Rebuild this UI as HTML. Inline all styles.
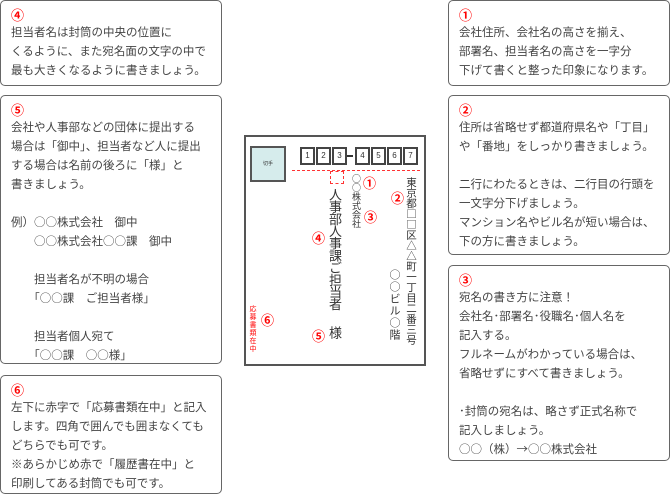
<!DOCTYPE html>
<html><head><meta charset="utf-8"><style>
body{margin:0;width:670px;height:496px;background:#fff;position:relative;overflow:hidden;font-family:"Noto Sans CJK JP","Liberation Sans",sans-serif;color:#444}
.b{position:absolute;border:1px solid #666;border-radius:5px;box-sizing:border-box;padding:6px 0 0 10px;font-size:11.5px;line-height:19px;white-space:pre}
.n{color:#f00;font-weight:bold;font-size:13px;line-height:16px;display:block}
.a{position:absolute}
.v{position:absolute;writing-mode:vertical-rl;white-space:nowrap;color:#333}
.r{position:absolute;color:#f00;font-weight:bold;font-size:13px}
.pb{position:absolute;top:147px;width:11px;height:14px;border:2px solid #444;font-family:"Liberation Sans",sans-serif;font-size:8px;text-align:center;line-height:14px;color:#333;box-sizing:content-box}
</style></head><body>
<div class="b" style="left:0;top:0;width:222px;height:86px"><span class="n">④</span>担当者名は封筒の中央の位置に
くるように、また宛名面の文字の中で
最も大きくなるように書きましょう。</div>
<div class="b" style="left:0;top:95px;width:222px;height:269px"><span class="n">⑤</span>会社や人事部などの団体に提出する
場合は「御中」、担当者など人に提出
する場合は名前の後ろに「様」と
書きましょう。

例）○○株式会社　御中
　　○○株式会社○○課　御中

　　担当者名が不明の場合
　　「○○課　ご担当者様」

　　担当者個人宛て
　　「○○課　○○様」</div>
<div class="b" style="left:0;top:375px;width:222px;height:119px"><span class="n">⑥</span>左下に赤字で「応募書類在中」と記入
します。四角で囲んでも囲まなくても
どちらでも可です。
※あらかじめ赤で「履歴書在中」と
印刷してある封筒でも可です。</div>
<div class="b" style="left:448px;top:0;width:222px;height:86px"><span class="n">①</span>会社住所、会社名の高さを揃え、
部署名、担当者名の高さを一字分
下げて書くと整った印象になります。</div>
<div class="b" style="left:448px;top:95px;width:222px;height:160px"><span class="n">②</span>住所は省略せず都道府県名や「丁目」
や「番地」をしっかり書きましょう。

二行にわたるときは、二行目の行頭を
一文字分下げましょう。
マンション名やビル名が短い場合は、
下の方に書きましょう。</div>
<div class="b" style="left:448px;top:265px;width:222px;height:196px"><span class="n">③</span>宛名の書き方に注意！
会社名･部署名･役職名･個人名を
記入する。
フルネームがわかっている場合は、
省略せずにすべて書きましょう。

･封筒の宛名は、略さず正式名称で
記入しましょう。
○○（株）→○○株式会社</div>

<div class="a" style="left:244px;top:135px;width:182px;height:231px;border:2px solid #555;box-sizing:border-box"></div>
<div class="a" style="left:250px;top:146px;width:32px;height:32px;border:2px solid #555;background:#d6ecec;font-size:5px;text-align:center;line-height:32px;color:#333">切手</div>
<div class="pb" style="left:300px">1</div>
<div class="pb" style="left:316px">2</div>
<div class="pb" style="left:332px">3</div>
<div class="a" style="left:347px;top:155px;width:6px;height:2px;background:#333"></div>
<div class="pb" style="left:355px">4</div>
<div class="pb" style="left:371px">5</div>
<div class="pb" style="left:387px">6</div>
<div class="pb" style="left:403px">7</div>
<div class="a" style="left:292px;top:170px;width:128px;border-top:1px dashed #f33"></div>
<div class="a" style="left:330px;top:171px;width:12px;height:11px;border:1px dashed #f33"></div>

<div class="v" style="left:404px;top:177px;font-size:10.5px;line-height:14px">東京都□□区△△町一丁目二番三号</div>
<div class="v" style="left:388px;top:269px;font-size:11px;line-height:14px;letter-spacing:1px">○○ビル○階</div>
<div class="v" style="left:350px;top:174px;font-size:9px;line-height:12px">○○株式会社</div>
<div class="v" style="left:327px;top:188px;font-size:13px;line-height:16px;letter-spacing:-0.8px">人事部人事課ご担当者</div>
<div class="v" style="left:327px;top:326px;font-size:13px;line-height:16px">様</div>
<div class="v" style="left:248px;top:305px;font-size:7px;line-height:9px;color:#f00;letter-spacing:1px">応募書類在中</div>
<div class="r" style="left:363px;top:173px">①</div>
<div class="r" style="left:391px;top:188px">②</div>
<div class="r" style="left:364px;top:207px">③</div>
<div class="r" style="left:312px;top:228px">④</div>
<div class="r" style="left:312px;top:326px">⑤</div>
<div class="r" style="left:261px;top:310px">⑥</div>
</body></html>
